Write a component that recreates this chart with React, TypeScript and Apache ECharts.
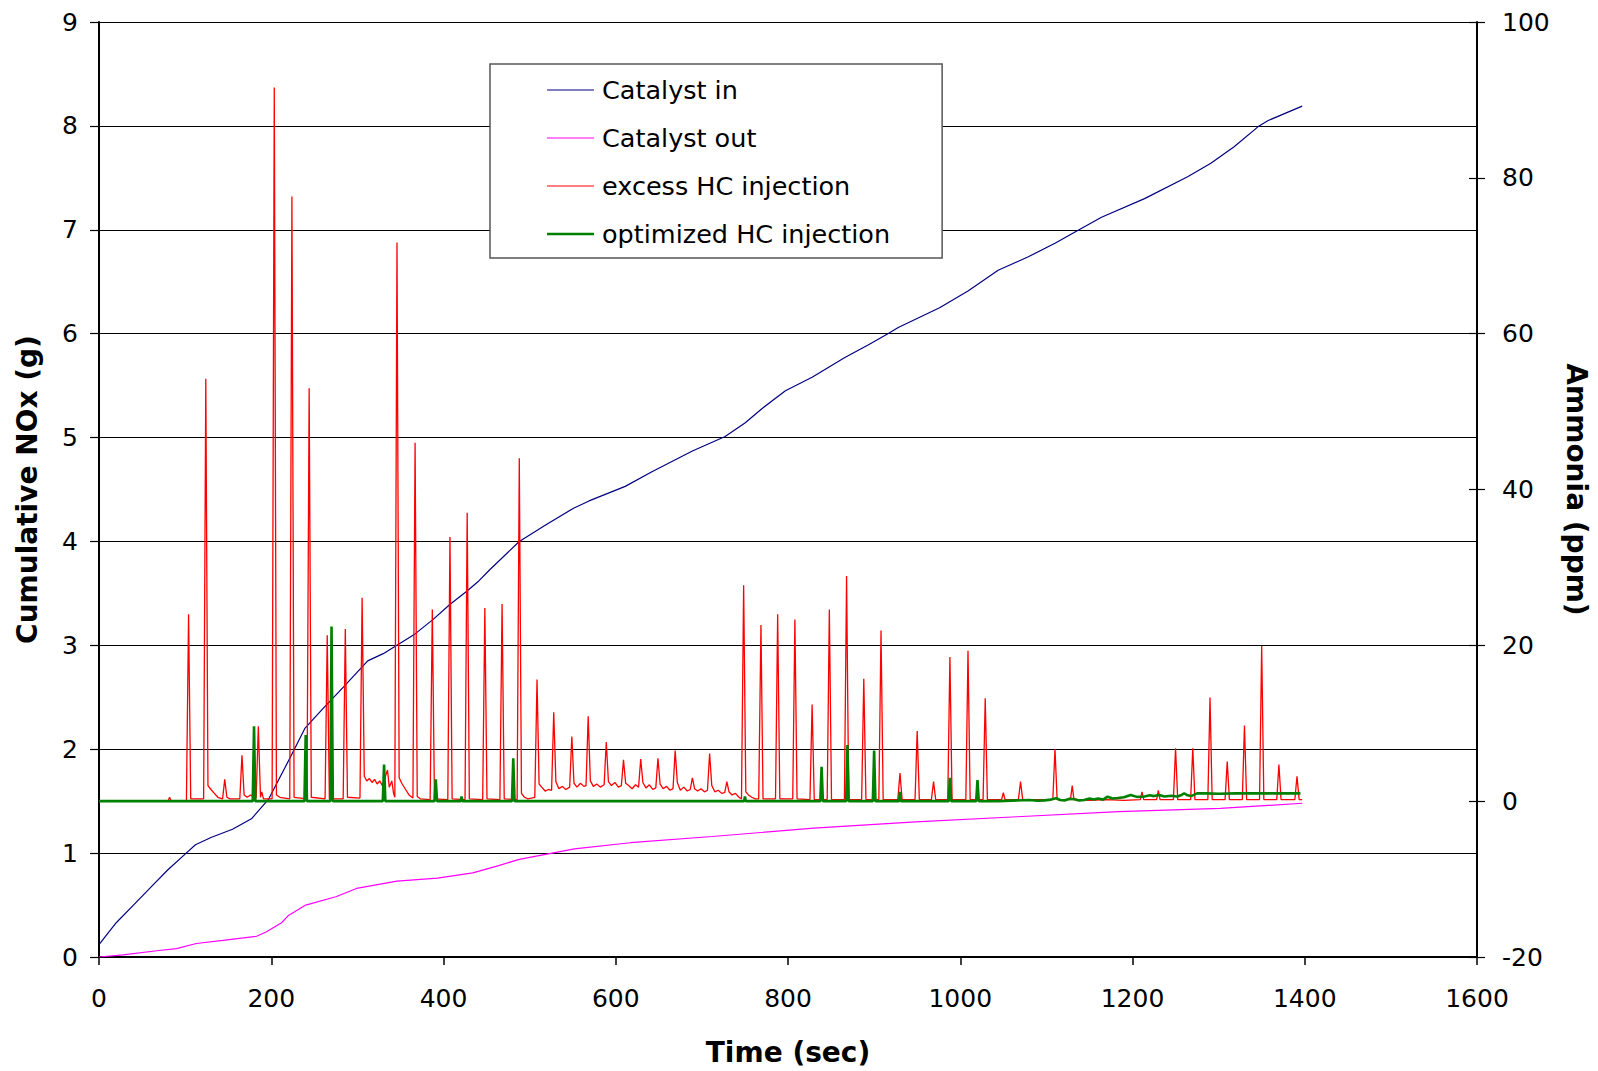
import React, { useEffect, useRef } from 'react';
import * as echarts from 'echarts';

// Cumulative NOx (g) vs time (s)
const catalystIn: [number, number][] = [
  [0, 0.12], [20, 0.33], [40, 0.5], [60, 0.67], [80, 0.84], [100, 0.99], [112, 1.08], [130, 1.15],
  [155, 1.23], [177, 1.33], [197, 1.52], [222, 1.92], [239, 2.2], [260, 2.39], [284, 2.6],
  [312, 2.85], [330, 2.92], [367, 3.11], [388, 3.25], [407, 3.39], [427, 3.52], [441, 3.62],
  [454, 3.73], [488, 4.0], [519, 4.16], [551, 4.32], [569, 4.39], [611, 4.53], [642, 4.67],
  [689, 4.87], [727, 5.01], [750, 5.14], [770, 5.28], [797, 5.45], [828, 5.58], [866, 5.77],
  [893, 5.89], [916, 6.0], [928, 6.06], [976, 6.25], [1009, 6.41], [1044, 6.61], [1079, 6.74],
  [1110, 6.87], [1140, 7.01], [1164, 7.12], [1214, 7.3], [1264, 7.51], [1291, 7.64],
  [1318, 7.8], [1347, 8.0], [1357, 8.05], [1397, 8.19],
];

const catalystOut: [number, number][] = [
  [0, 0.0], [28, 0.02], [67, 0.06], [90, 0.08], [113, 0.13], [144, 0.16], [183, 0.2], [194, 0.24],
  [212, 0.33], [220, 0.4], [240, 0.5], [275, 0.58], [299, 0.66], [346, 0.73], [393, 0.76],
  [434, 0.81], [464, 0.88], [488, 0.94], [552, 1.04], [617, 1.1], [712, 1.16], [830, 1.24],
  [948, 1.3], [1066, 1.35], [1184, 1.4], [1302, 1.43], [1397, 1.48],
];

// Ammonia (ppm) vs time (s)
const excessHC: [number, number][] = [
  [0, 0], [80, 0], [82, 0.5], [84, 0], [101.5, 0], [104, 24], [106.5, 0.3], [121.5, 0.3], [124, 54.2],
  [126.5, 2], [130, 1.5], [134, 1.0], [138, 0.5], [143.5, 0.3], [146, 2.8], [148.5, 0.5], [152, 0.3],
  [163.5, 0.3], [166, 5.9], [168.5, 0.8], [172, 0.5], [176, 0.8], [180, 0.5], [182.5, 0.4], [185, 9.6],
  [187.5, 0.5], [189, 1.2], [191, 0.3], [201, 0.3], [203.5, 91.6], [206, 0.8], [210, 0.5], [221.5, 0.3],
  [224, 77.6], [226.5, 0.5], [241.5, 0.3], [244, 53], [246.5, 0.5], [262.5, 0.3], [265, 21.3],
  [267.5, 0.3], [283.5, 0.3], [286, 22.1], [288.5, 0.5], [303, 0.4], [305.5, 26.1], [308, 3.2],
  [311, 2.6], [314, 2.9], [317, 2.4], [320, 2.8], [323, 2.2], [326, 2.6], [329, 2.0], [332, 3.0],
  [335, 4.0], [337, 1.8], [340, 2.6], [342, 1.0], [343.5, 0.5], [346, 71.7], [348.5, 3], [352, 2.2],
  [356, 1.5], [360, 0.8], [364.5, 0.4], [367, 46], [369.5, 0.6], [373, 0.3], [384.5, 0.2], [387, 24.6],
  [389.5, 0.3], [405, 0.2], [407.5, 33.9], [410, 0.3], [425, 0.2], [427.5, 37], [430, 0.3],
  [445.5, 0.2], [448, 24.8], [450.5, 0.3], [465.5, 0.2], [468, 25.3], [470.5, 0.3], [485.5, 0.2],
  [488, 44], [490.5, 1.0], [494, 0.5], [498, 0.3], [506, 0.5], [508.6, 15.6], [511, 2.2], [514, 1.8],
  [518, 1.3], [522, 1.5], [525.5, 1.4], [528, 11.4], [530.5, 2.5], [534, 1.6], [538, 1.9], [542, 1.5],
  [546.5, 1.8], [549, 8.3], [551.5, 2.3], [555, 1.8], [559, 2.3], [563, 1.9], [565.5, 2.0], [568, 10.9],
  [570.5, 2.6], [574, 1.9], [578, 2.2], [582, 1.8], [586.5, 2.1], [589, 7.6], [591.5, 2.5], [595, 2.0],
  [599, 2.4], [603, 1.8], [606.5, 2.0], [609, 5.3], [611.5, 2.3], [615, 2.0], [619, 1.6], [623, 2.1],
  [626.5, 1.8], [629, 5.4], [631.5, 2.4], [635, 1.7], [639, 2.1], [643, 1.5], [646.5, 1.7], [649, 5.5],
  [651.5, 2.2], [655, 1.6], [659, 1.9], [663, 1.4], [666.5, 1.6], [669, 6.5], [671.5, 2.4], [675, 1.4],
  [679, 1.8], [683, 1.3], [686.5, 1.5], [689, 3.0], [691.5, 1.6], [695, 1.3], [699, 1.6], [703, 1.2],
  [706.5, 1.4], [709, 6.1], [711.5, 2.0], [715, 1.2], [719, 1.4], [723, 1.0], [726.5, 1.1], [729, 2.5],
  [731.5, 1.2], [735, 0.8], [739, 1.0], [743, 0.5], [746, 0.3], [748.5, 27.7], [751, 1.2], [754, 0.8],
  [758, 0.5], [762, 0.3], [766, 0.3], [768.6, 22.6], [771, 0.3], [785.5, 0.3], [788, 24], [790.5, 0.3],
  [805.5, 0.3], [808, 23.3], [810.5, 0.3], [825.5, 0.2], [828, 12.4], [830.5, 0.2], [845.5, 0.2],
  [848, 24.6], [850.5, 0.2], [865.5, 0.2], [868, 28.9], [870.5, 0.2], [885.5, 0.2], [888, 15.7],
  [890.5, 0.2], [905.5, 0.2], [908, 21.9], [910.5, 0.2], [927.5, 0.2], [930, 3.6], [932.5, 0.2],
  [947.5, 0.2], [950, 9.0], [952.5, 0.2], [966.5, 0.2], [969, 2.5], [971.5, 0.2], [985.5, 0.2],
  [988, 18.5], [990.5, 0.2], [1006.5, 0.2], [1009, 19.3], [1011.5, 0.2], [1026.5, 0.2], [1029, 13.2],
  [1031.5, 0.2], [1048, 0.2], [1050, 1.1], [1052, 0.2], [1067.5, 0.2], [1070, 2.5], [1072.5, 0.2],
  [1107.5, 0.2], [1110, 6.7], [1112.5, 0.2], [1128, 0.2], [1130, 2.0], [1132, 0.2], [1150, 0.1],
  [1170, 0.2], [1190, 0.1], [1209, 0.2], [1211, 1.2], [1213, 0.2], [1228, 0.2], [1230, 1.4], [1232, 0.2],
  [1247.5, 0.2], [1250, 6.8], [1252.5, 0.2], [1267.5, 0.2], [1270, 6.8], [1272.5, 0.2], [1287.5, 0.2],
  [1290, 13.3], [1292.5, 0.2], [1307.5, 0.2], [1310, 5.1], [1312.5, 0.2], [1327.5, 0.2], [1330, 9.7],
  [1332.5, 0.2], [1347.5, 0.2], [1350, 19.9], [1352.5, 0.2], [1367.5, 0.2], [1370, 4.7], [1372.5, 0.2],
  [1388.5, 0.2], [1391, 3.2], [1393.5, 0.2], [1397, 0.2],
];

const optimizedHC: [number, number][] = [
  [0, 0], [178.5, 0], [180, 9.6], [181.5, 0], [238.5, 0], [240, 8.5], [241.5, 0], [268.5, 0], [270, 22.4],
  [271.5, 0], [329.5, 0], [331, 4.7], [332.5, 0], [389.5, 0], [391, 2.8], [392.5, 0], [420, 0], [421, 0.6],
  [422, 0], [479.5, 0], [481, 5.5], [482.5, 0], [749, 0], [750, 0.6], [751, 0], [837.5, 0], [839, 4.4],
  [840.5, 0], [867.5, 0], [869, 7.2], [870.5, 0], [898.5, 0], [900, 6.5], [901.5, 0], [929, 0], [930, 1.2],
  [931, 0], [986.5, 0], [988, 3.0], [989.5, 0], [1018.5, 0], [1020, 2.7], [1021.5, 0], [1044, 0],
  [1080, 0.15], [1090, 0.05], [1098, 0.1], [1105, 0.2], [1111.5, 0.37], [1116, 0.15], [1121, 0.1],
  [1127, 0.3], [1133, 0.25], [1138, 0.1], [1144, 0.15], [1150, 0.35], [1155, 0.2], [1160, 0.35],
  [1166, 0.2], [1171, 0.58], [1177, 0.35], [1183, 0.4], [1190, 0.5], [1198, 0.8], [1205, 0.55],
  [1214, 0.6], [1220, 0.75], [1225, 0.65], [1231, 0.8], [1237, 0.6], [1245, 0.7], [1252, 0.6],
  [1257, 0.8], [1260, 1.0], [1264, 0.75], [1268, 0.65], [1275, 1.0], [1285, 1.0], [1300, 0.95],
  [1320, 1.0], [1340, 1.0], [1360, 1.0], [1380, 1.0], [1395, 1.0],
];

const seriesNames = ['Catalyst in', 'Catalyst out', 'excess HC injection', 'optimized HC injection'];
const seriesColors = ['#000080', '#ff00ff', '#ff0000', '#008000'];

const FONT = 'DejaVu Sans';
// legend line samples (bounding points fix the icon box so the stroke stays thin)
const thinIcon = 'path://M0,0M47,14M0,6.4L47,6.4L47,7.6L0,7.6Z';
const thickIcon = 'path://M0,0M47,14M0,5.8L47,5.8L47,8.2L0,8.2Z';

export default function App() {
  const ref = useRef<HTMLDivElement>(null);
  useEffect(() => {
    document.body.style.margin = '0';
    const chart = echarts.init(ref.current!, null, { renderer: 'svg' });
    const axisLine = { show: true, lineStyle: { color: '#000', width: 2 } };
    chart.setOption({
      animation: false,
      backgroundColor: '#fff',
      textStyle: { fontFamily: FONT, color: '#000' },
      grid: { left: 99, right: 115, top: 22, bottom: 114, containLabel: false },
      legend: {
        orient: 'vertical',
        left: 490,
        top: 64,
        padding: [2, 52, 0, 57],
        itemGap: 0,
        itemWidth: 47,
        itemHeight: 14,
        backgroundColor: '#fff',
        borderColor: '#555',
        borderWidth: 1.5,
        borderRadius: 0,
        selectedMode: false,
        itemStyle: { borderWidth: 0 },
        data: seriesNames.map((name, i) => ({
          name,
          icon: i === 3 ? thickIcon : thinIcon,
          itemStyle: { color: seriesColors[i], borderWidth: 0 },
        })),
        textStyle: { fontFamily: FONT, fontSize: 25.5, color: '#000', lineHeight: 48, padding: [0, 0, 0, 3] },
      },
      xAxis: {
        type: 'value',
        min: 0,
        max: 1600,
        interval: 200,
        name: 'Time (sec)',
        nameLocation: 'middle',
        nameGap: 81,
        nameTextStyle: { fontFamily: FONT, fontSize: 28, fontWeight: 'bold', color: '#000' },
        axisLine,
        axisTick: { show: true, inside: false, length: 8, lineStyle: { color: '#000', width: 1.5 } },
        axisLabel: { fontFamily: FONT, fontSize: 25, color: '#000', margin: 29, formatter: (v: number) => String(v) },
        splitLine: { show: false },
      },
      yAxis: [
        {
          type: 'value',
          min: 0,
          max: 9,
          interval: 1,
          position: 'left',
          name: 'Cumulative NOx (g)',
          nameLocation: 'middle',
          nameRotate: 90,
          nameGap: 58,
          nameTextStyle: { fontFamily: FONT, fontSize: 28, fontWeight: 'bold', color: '#000' },
          axisLine,
          axisTick: { show: true, inside: false, length: 9, lineStyle: { color: '#000', width: 1.2 } },
          axisLabel: { fontFamily: FONT, fontSize: 25, color: '#000', margin: 21, formatter: (v: number) => String(v) },
          splitLine: { show: true, lineStyle: { color: '#000', width: 1 } },
        },
        {
          type: 'value',
          min: -20,
          max: 100,
          interval: 20,
          position: 'right',
          name: 'Ammonia (ppm)',
          nameLocation: 'middle',
          nameRotate: -90,
          nameGap: 85,
          nameTextStyle: { fontFamily: FONT, fontSize: 28, fontWeight: 'bold', color: '#000' },
          axisLine,
          axisTick: { show: true, inside: false, length: 8, lineStyle: { color: '#000', width: 1.2 } },
          axisLabel: { fontFamily: FONT, fontSize: 25, color: '#000', margin: 25, formatter: (v: number) => String(v) },
          splitLine: { show: false },
        },
        {
          type: 'value',
          min: -20,
          max: 100,
          interval: 20,
          position: 'right',
          axisLine: { show: false },
          axisTick: { show: true, inside: true, length: 8, lineStyle: { color: '#000', width: 1.2 } },
          axisLabel: { show: false },
          splitLine: { show: false },
        },
      ],
      series: [
        {
          name: seriesNames[0], type: 'line', yAxisIndex: 0, data: catalystIn, symbol: 'none', showSymbol: false,
          lineStyle: { color: seriesColors[0], width: 1.2 }, itemStyle: { color: seriesColors[0] }, z: 2,
        },
        {
          name: seriesNames[1], type: 'line', yAxisIndex: 0, data: catalystOut, symbol: 'none', showSymbol: false,
          lineStyle: { color: seriesColors[1], width: 1.2 }, itemStyle: { color: seriesColors[1] }, z: 2,
        },
        {
          name: seriesNames[2], type: 'line', yAxisIndex: 1, data: excessHC, symbol: 'none', showSymbol: false,
          lineStyle: { color: seriesColors[2], width: 1.3 }, itemStyle: { color: seriesColors[2] }, z: 3,
        },
        {
          name: seriesNames[3], type: 'line', yAxisIndex: 1, data: optimizedHC, symbol: 'none', showSymbol: false,
          lineStyle: { color: seriesColors[3], width: 2.6 }, itemStyle: { color: seriesColors[3] }, z: 4,
        },
      ],
    });
    return () => chart.dispose();
  }, []);
  return <div ref={ref} style={{ width: 1598, height: 1071 }} />;
}
